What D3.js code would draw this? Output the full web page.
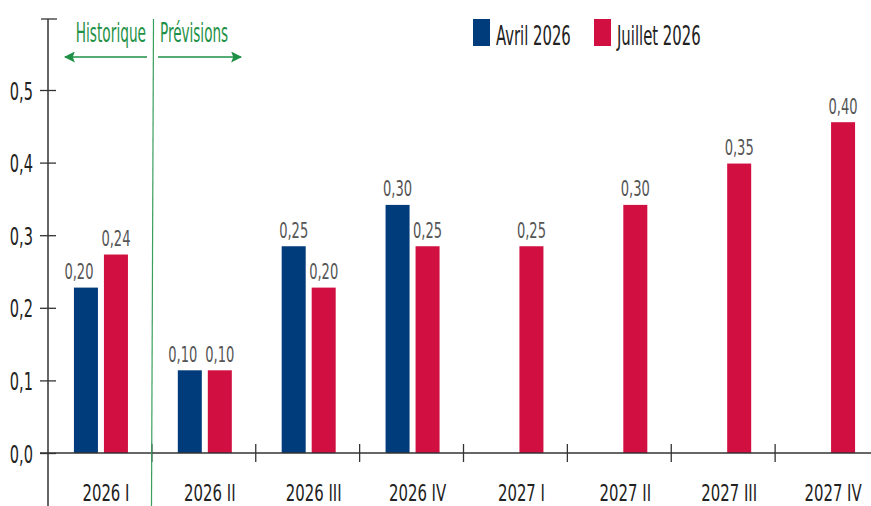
<!DOCTYPE html>
<html>
<head>
<meta charset="utf-8">
<script src="https://cdn.jsdelivr.net/npm/d3@7"></script>
<style>
    body { margin: 0; background: #fff; }
    text { font-family: "DejaVu Sans Condensed", "Liberation Sans Narrow", sans-serif; }
</style>
</head>
<body>
<div id="chart"></div>
<script>
// data
const categories = ["2026 I", "2026 II", "2026 III", "2026 IV", "2027 I", "2027 II", "2027 III", "2027 IV"];
const seriesNames = ["Avril 2026", "Juillet 2026"];
const avril2026 = [0.20, 0.10, 0.25, 0.30, null, null, null, null];
const juillet2026 = [0.24, 0.10, 0.20, 0.25, 0.25, 0.30, 0.35, 0.40];
const yTicks = [0, 0.1, 0.2, 0.3, 0.4, 0.5];
const periodLabels = ["Historique", "Prévisions"];

var width = 871, height = 506;
var colors = { "Avril 2026": "#003b7b", "Juillet 2026": "#d10f41" };
var green = "#1e9146";
var axisColor = "#333";

var svg = d3.select("#chart")
    .append("svg")
    .attr("width", width)
    .attr("height", height);

var x0 = 48, yZero = 453;

var x = d3.scaleBand()
    .domain(categories)
    .range([x0, 879]);

// position of both bars inside a category
var xSub = d3.scaleBand()
    .domain(seriesNames)
    .range([x.bandwidth() / 2 - 26, x.bandwidth() / 2 + 28])
    .paddingInner(0.2);

// the axis in the source is labelled on one scale...
var yAxisScale = d3.scaleLinear()
    .domain([0, 0.5])
    .range([yZero, 90]);
// ...but its bars are drawn about 14% taller, so they get their own scale
var yBar = d3.scaleLinear()
    .domain([0, 0.5])
    .range([yZero, yZero - 413.5]);

var fmt = d => d3.format(".2f")(d).replace(".", ",");

// bars
var barData = [];
categories.forEach((c, i) => {
    if (avril2026[i] != null) barData.push({ cat: c, series: "Avril 2026", value: avril2026[i], other: juillet2026[i] });
    if (juillet2026[i] != null) barData.push({ cat: c, series: "Juillet 2026", value: juillet2026[i] });
});

svg.append("g")
    .selectAll("rect")
    .data(barData)
    .join("rect")
    .attr("x", d => x(d.cat) + xSub(d.series))
    .attr("y", d => yBar(d.value))
    .attr("width", xSub.bandwidth())
    .attr("height", d => yZero - yBar(d.value))
    .attr("fill", d => colors[d.series]);

// value labels (blue label nudged left when the red one is as high or higher)
svg.append("g")
    .selectAll("text")
    .data(barData)
    .join("text")
    .attr("transform", d => {
        var shift = (d.series === "Avril 2026" && d.value <= d.other) ? -7 : 0;
        return "translate(" + (x(d.cat) + xSub(d.series) + xSub.bandwidth() / 2 + shift) + "," + (yBar(d.value) - 8.5) + ") scale(0.71,1)";
    })
    .attr("text-anchor", "middle")
    .style("font-size", "20.5px")
    .attr("fill", "#555")
    .text(d => fmt(d.value));

// y axis
var yAxis = svg.append("g")
    .attr("transform", "translate(" + x0 + ",0)")
    .call(d3.axisLeft(yAxisScale)
        .tickValues(yTicks)
        .tickSize(8)
        .tickFormat(d => d3.format(".1f")(d).replace(".", ",")));
yAxis.select(".domain").remove();
yAxis.selectAll(".tick line")
    .attr("x1", 8)
    .attr("stroke", axisColor)
    .attr("stroke-width", 1.3);
yAxis.selectAll(".tick text")
    .attr("x", 0)
    .attr("dy", 0)
    .attr("transform", "translate(-15,9) scale(0.66,1)")
    .attr("fill", "#222")
    .style("font-size", "24.5px");

svg.append("line")
    .attr("x1", x0).attr("x2", x0)
    .attr("y1", 19).attr("y2", height)
    .attr("stroke", axisColor)
    .attr("stroke-width", 1.5);
svg.append("line")
    .attr("x1", x0 - 7).attr("x2", x0 + 9)
    .attr("y1", 19).attr("y2", 19)
    .attr("stroke", axisColor)
    .attr("stroke-width", 1.3);

// x axis: baseline, ticks between categories, labels
svg.append("line")
    .attr("x1", x0 - 8).attr("x2", width)
    .attr("y1", yZero).attr("y2", yZero)
    .attr("stroke", axisColor)
    .attr("stroke-width", 1.5);

svg.append("g")
    .selectAll("line")
    .data(categories.slice(1))
    .join("line")
    .attr("x1", d => x(d)).attr("x2", d => x(d))
    .attr("y1", yZero - 9).attr("y2", yZero + 9)
    .attr("stroke", axisColor)
    .attr("stroke-width", 1.3);

var xAxis = svg.append("g")
    .attr("transform", "translate(0," + yZero + ")")
    .call(d3.axisBottom(x).tickSize(0));
xAxis.select(".domain").remove();
xAxis.selectAll(".tick text")
    .attr("y", 0)
    .attr("dy", 0)
    .attr("transform", "translate(6,47.5) scale(0.72,1)")
    .attr("fill", "#222")
    .style("font-size", "23px");

// historique / prévisions split
svg.append("line")
    .attr("x1", 153.5).attr("x2", 151.5)
    .attr("y1", 19).attr("y2", height)
    .attr("stroke", "#3a9e5c")
    .attr("stroke-width", 1.2);

var defs = svg.append("defs");
defs.append("marker")
    .attr("id", "arrow")
    .attr("viewBox", "0 0 10 10")
    .attr("refX", 9).attr("refY", 5)
    .attr("markerWidth", 11).attr("markerHeight", 11)
    .attr("markerUnits", "userSpaceOnUse")
    .attr("orient", "auto")
    .append("path")
    .attr("d", "M0,0 L10,5 L0,10 L2,5 Z")
    .attr("fill", green);

svg.append("line")
    .attr("x1", 147).attr("x2", 65)
    .attr("y1", 57).attr("y2", 57)
    .attr("stroke", green).attr("stroke-width", 1.6)
    .attr("marker-end", "url(#arrow)");
svg.append("line")
    .attr("x1", 158).attr("x2", 241)
    .attr("y1", 57).attr("y2", 57)
    .attr("stroke", green).attr("stroke-width", 1.6)
    .attr("marker-end", "url(#arrow)");

svg.append("text")
    .attr("transform", "translate(146,42) scale(0.586,1)")
    .attr("text-anchor", "end")
    .style("font-size", "26px")
    .attr("fill", green)
    .text(periodLabels[0]);
svg.append("text")
    .attr("transform", "translate(160,42) scale(0.58,1)")
    .style("font-size", "26px")
    .attr("fill", green)
    .text(periodLabels[1]);

// legend
var legendX = [473, 594];
var legend = svg.append("g")
    .selectAll("g")
    .data(seriesNames)
    .join("g")
    .attr("transform", (d, i) => "translate(" + legendX[i] + ",19)");
legend.append("rect")
    .attr("width", 17)
    .attr("height", 27)
    .attr("fill", d => colors[d]);
legend.append("text")
    .attr("transform", "translate(23,26) scale(0.635,1)")
    .style("font-size", "26px")
    .attr("fill", "#222")
    .text(d => d);
</script>
</body>
</html>
